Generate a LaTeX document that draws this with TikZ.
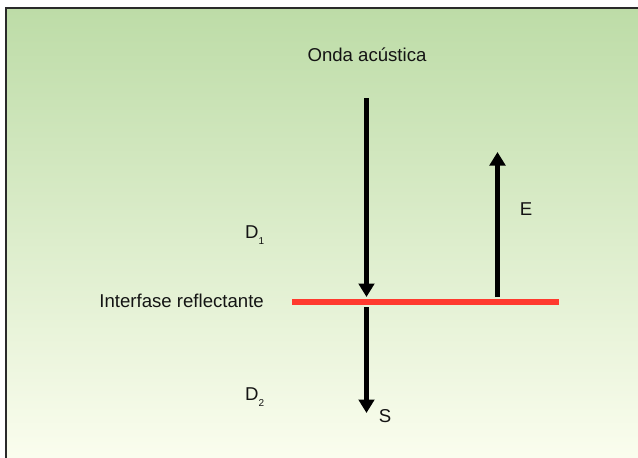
\documentclass[tikz,border=0pt]{standalone}
\usepackage{fontspec}
\setmainfont{Liberation Sans}
\usetikzlibrary{arrows.meta}
\definecolor{topg}{HTML}{BDDCA7}
\definecolor{botg}{HTML}{FCFEF0}
\definecolor{redl}{HTML}{FF3A2E}
\definecolor{framec}{HTML}{2A2A2A}
\newcommand{\lowidx}[1]{\raisebox{-0.3em}{\fontsize{10}{10}\selectfont #1}}
\begin{document}
\begin{tikzpicture}[x=1pt,y=-1pt,
  lbl/.style={inner sep=0pt, font=\fontsize{18.6}{22}\selectfont, text=black!92},
  arr/.style={line width=5pt, -{Triangle[length=13.5pt,width=15.5pt]}},
  iface/.style={redl, line width=6pt}]
\useasboundingbox (0,0) rectangle (638,458);
\path[top color=topg, bottom color=botg] (6,8) rectangle (650,470);
\draw[line width=2pt, framec] (6,470) -- (6,8) -- (650,8);

\node[lbl] (onda) at (367,55) {Onda acústica};
\node[lbl, anchor=west] (d1) at (245,235) {D\lowidx{1}};
\node[lbl, anchor=west] (d2) at (245,397) {D\lowidx{2}};
\node[lbl, anchor=east] (inter) at (264,301) {Interfase reflectante};
\node[lbl] (e) at (526,209) {E};
\node[lbl] (s) at (385,416) {S};

\coordinate (rl) at (292,302);
\coordinate (rr) at (559,302);
\draw[iface] (rl) -- (rr);

\coordinate (a1s) at (366.5,98);
\coordinate (a1e) at (366.5,297);
\coordinate (a2s) at (366.5,307);
\coordinate (a2e) at (366.5,413);
\coordinate (a3s) at (497.5,297);
\coordinate (a3e) at (497.5,152);
\draw[arr] (a1s) -- (a1e);
\draw[arr] (a2s) -- (a2e);
\draw[arr] (a3s) -- (a3e);
\end{tikzpicture}
\end{document}
